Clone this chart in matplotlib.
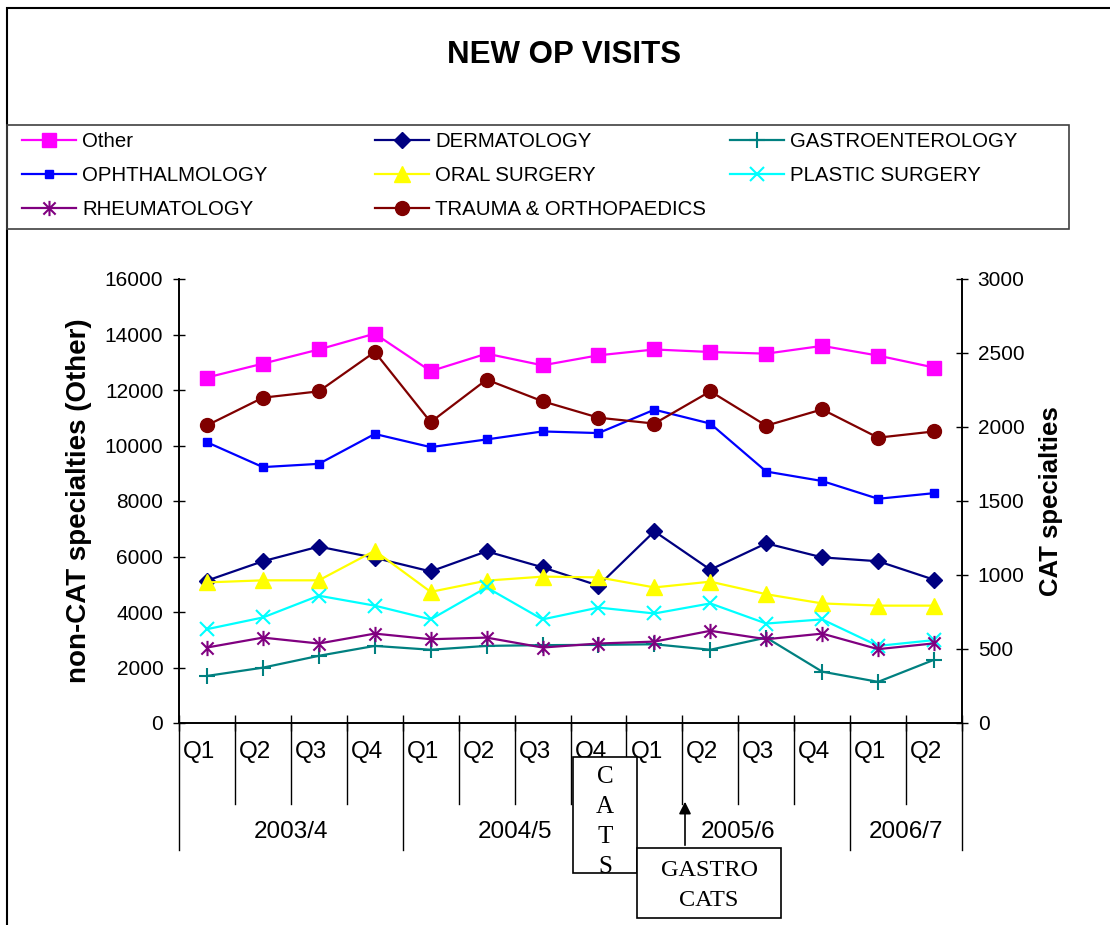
import numpy as np
import matplotlib
matplotlib.use("Agg")
import matplotlib.pyplot as plt
from matplotlib.path import Path
from matplotlib.patches import Rectangle, FancyArrowPatch

# ---------------- data ----------------
quarters = ["Q1", "Q2", "Q3", "Q4", "Q1", "Q2", "Q3", "Q4",
            "Q1", "Q2", "Q3", "Q4", "Q1", "Q2"]
years = ["2003/4", "2004/5", "2005/6", "2006/7"]
year_spans = [4, 4, 4, 2]

other = [12450, 12950, 13460, 14030, 12680, 13310, 12890,
         13250, 13460, 13370, 13310, 13590, 13240, 12810]
dermatology = [962, 1093, 1192, 1116, 1024, 1160, 1052,
               928, 1295, 1036, 1214, 1119, 1093, 968]
gastroenterology = [318, 374, 454, 521, 495, 521, 526,
                    528, 532, 495, 577, 347, 278, 427]
ophthalmology = [1897, 1729, 1751, 1953, 1864, 1916, 1970,
                 1959, 2117, 2023, 1699, 1635, 1515, 1553]
oral_surgery = [950, 964, 964, 1164, 886, 962, 989,
                984, 916, 955, 870, 808, 793, 793]
plastic_surgery = [634, 713, 860, 793, 700, 916, 700,
                   780, 740, 808, 672, 700, 521, 560]
rheumatology = [510, 577, 537, 604, 566, 577, 510,
                537, 550, 623, 566, 604, 499, 538]
trauma_orthopaedics = [2011, 2198, 2241, 2507, 2033, 2320, 2174,
                       2063, 2023, 2241, 2009, 2119, 1928, 1970]

# ---------------- figure ----------------
plt.rcParams['font.family'] = ['Liberation Sans', 'DejaVu Sans']
W, H = 1110, 925
fig = plt.figure(figsize=(W / 100, H / 100), dpi=100)
fig.patch.set_facecolor('white')


def fx(px):
    return px / W


def fy(py):
    return 1 - py / H


L, R, T, B = 179, 962, 279, 723
ax = fig.add_axes([fx(L), fy(B), (R - L) / W, (B - T) / H])
ax2 = ax.twinx()

x = np.arange(len(quarters))

asterisk = Path([(-1, -1), (1, 1), (-1, 1), (1, -1), (0, -1.25), (0, 1.25)],
                [Path.MOVETO, Path.LINETO, Path.MOVETO, Path.LINETO,
                 Path.MOVETO, Path.LINETO])

lw = 1.6
h_other, = ax.plot(x, other, color='#FF00FF', marker='s', ms=9.5, lw=lw,
                   label='Other')
h_derm, = ax2.plot(x, dermatology, color='#000080', marker='D', ms=8.5, lw=lw,
                   label='DERMATOLOGY')
h_gas, = ax2.plot(x, gastroenterology, color='#008080', marker='+', ms=11,
                  mew=1.5, lw=lw, label='GASTROENTEROLOGY')
h_oph, = ax2.plot(x, ophthalmology, color='#0000FF', marker='s', ms=5.5,
                  lw=lw, label='OPHTHALMOLOGY')
h_oral, = ax2.plot(x, oral_surgery, color='#FFFF00', marker='^', ms=11,
                   lw=lw, label='ORAL SURGERY')
h_plas, = ax2.plot(x, plastic_surgery, color='#00FFFF', marker='x', ms=9.5,
                   mew=1.5, lw=lw, label='PLASTIC SURGERY')
h_rheu, = ax2.plot(x, rheumatology, color='#800080', marker=asterisk, ms=11,
                   mew=1.5, lw=lw, label='RHEUMATOLOGY')
h_trau, = ax2.plot(x, trauma_orthopaedics, color='#800000', marker='o',
                   ms=10, lw=lw, label='TRAUMA & ORTHOPAEDICS')

ax.set_xlim(-0.5, len(quarters) - 0.5)
ax.set_ylim(0, 16000)
ax.set_yticks(np.arange(0, 16001, 2000))
ax2.set_ylim(0, 3000)
ax2.set_yticks(np.arange(0, 3001, 500))

for a in (ax, ax2):
    a.spines['top'].set_visible(False)
    for s in ('left', 'right', 'bottom'):
        a.spines[s].set_linewidth(1.2)
        a.spines[s].set_color('black')

tick_len = 12 * 0.72
ax.tick_params(axis='y', direction='inout', length=tick_len, width=1,
               labelsize=15, pad=7)
ax2.tick_params(axis='y', direction='inout', length=tick_len, width=1,
                labelsize=15, pad=7)
ax.set_xticks(np.arange(-0.5, len(quarters), 1))
ax.set_xticklabels([])
ax.tick_params(axis='x', direction='inout', length=11, width=1)

ax.set_ylabel('non-CAT specialties (Other)', fontsize=20, fontweight='bold')
ax.yaxis.label.set_va('center')
ax.yaxis.set_label_coords((79 - L) / (R - L), 0.5)
ax2.set_ylabel('CAT specialties', fontsize=18.5, fontweight='bold',
               rotation=90)
ax2.yaxis.label.set_va('center')
ax2.yaxis.set_label_coords((1051 - L) / (R - L), 0.5)

# multi-level category axis
trans = ax.get_xaxis_transform()
axh = B - T
q_bottom = -(804 - B) / axh
y_bottom = -(850 - B) / axh
year_edges = np.concatenate([[0], np.cumsum(year_spans)]) - 0.5
for b in np.arange(-0.5, len(quarters), 1):
    yb = y_bottom if np.any(np.isclose(year_edges, b)) else q_bottom
    ax.plot([b, b], [0, yb], color='black', lw=1, transform=trans,
            clip_on=False)
for i, q in enumerate(quarters):
    ax.annotate(q, xy=(i - 0.5, 0), xycoords=trans, xytext=(4, -29),
                textcoords='offset pixels', ha='left', va='center',
                fontsize=17.5)
for k, yr in enumerate(years):
    c = (year_edges[k] + year_edges[k + 1]) / 2
    ax.annotate(yr, xy=(c, 0), xycoords=trans, xytext=(0, -109),
                textcoords='offset pixels', ha='center', va='center',
                fontsize=17.5)

# title
fig.text(fx(564), fy(55), 'NEW OP VISITS', ha='center', va='center',
         fontsize=22.5, fontweight='bold')

# outer border and legend frame
fig.add_artist(Rectangle((fx(7), fy(940)), (1130 - 7) / W, (940 - 8) / H,
                         transform=fig.transFigure, fill=False,
                         edgecolor='black', lw=1.5, clip_on=False))
fig.add_artist(Rectangle((fx(7), fy(229)), (1069 - 7) / W, (229 - 125) / H,
                         transform=fig.transFigure, fill=False,
                         edgecolor='#404040', lw=1.2))

# legends (row-wise layout, three columns)
cols = [([h_other, h_oph, h_rheu], 22),
        ([h_derm, h_oral, h_trau], 375),
        ([h_gas, h_plas], 730)]
for handles, xpos in cols:
    fig.legend(handles=handles, loc='upper left',
               bbox_to_anchor=(fx(xpos), fy(132)), frameon=False,
               fontsize=14.7, handlelength=2.65, handletextpad=0.3,
               labelspacing=0.73, borderpad=0, borderaxespad=0,
               numpoints=1)

# annotation boxes
fig.add_artist(Rectangle((fx(573), fy(873)), (637 - 573) / W, (873 - 757) / H,
                         transform=fig.transFigure, facecolor='white',
                         edgecolor='black', lw=1.2, zorder=5))
for j, ch in enumerate('CATS'):
    fig.text(fx(605), fy(777 + j * 30), ch, ha='center', va='center',
             fontsize=18, family=['Liberation Serif'], zorder=6)
fig.add_artist(Rectangle((fx(637), fy(918)), (781 - 637) / W, (918 - 848) / H,
                         transform=fig.transFigure, facecolor='white',
                         edgecolor='black', lw=1.2, zorder=5))
fig.text(fx(709), fy(871), 'GASTRO', ha='center', va='center', fontsize=17.5,
         family=['Liberation Serif'], zorder=6)
fig.text(fx(709), fy(901), 'CATS', ha='center', va='center', fontsize=17.5,
         family=['Liberation Serif'], zorder=6)
fig.add_artist(FancyArrowPatch((fx(685), fy(848)), (fx(685), fy(799)),
                               transform=fig.transFigure, arrowstyle='-|>',
                               mutation_scale=18, color='black', lw=1.2,
                               zorder=6))

fig.savefig('out.png', dpi=100, facecolor='white')
